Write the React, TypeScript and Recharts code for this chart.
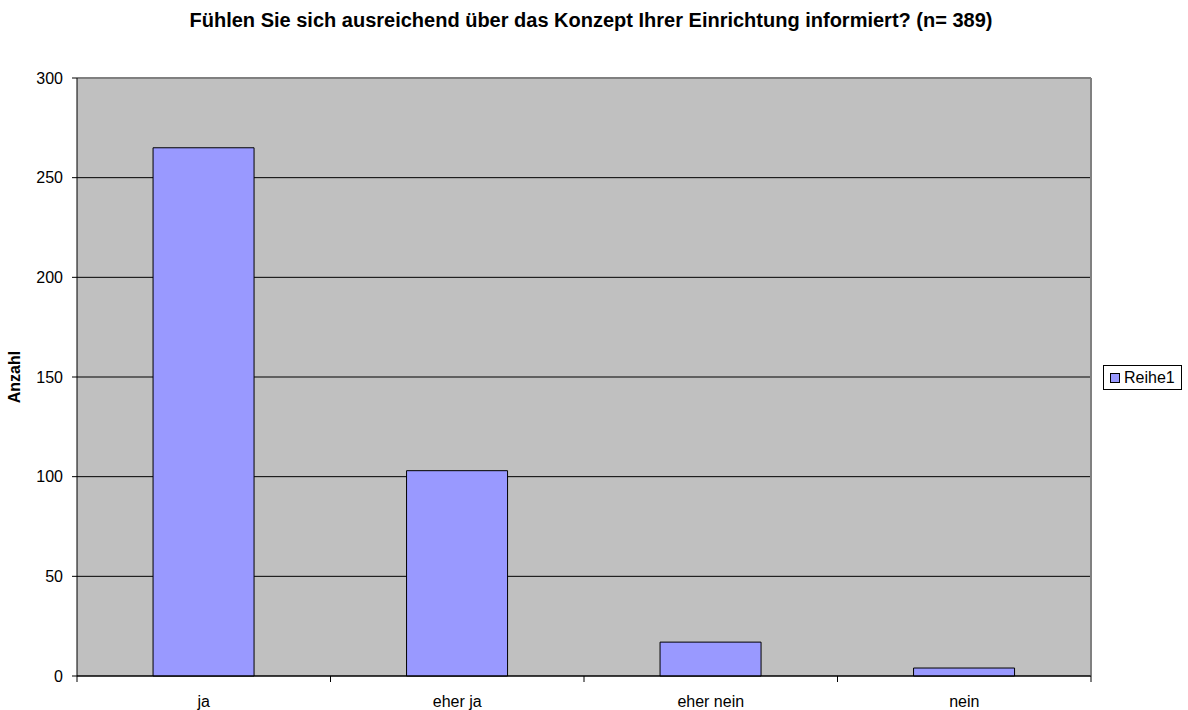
import React from 'react';
import { BarChart, Bar, XAxis, YAxis, CartesianGrid } from 'recharts';

const categories = ['ja', 'eher ja', 'eher nein', 'nein'];
const reihe1 = [265, 103, 17, 4];
const yTicks = [0, 50, 100, 150, 200, 250, 300];

const data = categories.map((c, i) => ({ name: c, Reihe1: reihe1[i] }));

const FONT = '"Liberation Sans", Arial, sans-serif';
const TITLE = 'Fühlen Sie sich ausreichend über das Konzept Ihrer Einrichtung informiert? (n= 389)';

const XTick = (props: any) => {
  const { x, y, payload, index } = props;
  const off = payload && payload.offset ? payload.offset : 0;
  const axisY = y - 8;
  return (
    <g>
      {index === 0 && <line x1={x - off} x2={x - off} y1={axisY} y2={axisY + 6} stroke="#000" />}
      <line x1={x + off} x2={x + off} y1={axisY} y2={axisY + 6} stroke="#000" />
      <text x={x} y={axisY + 31} textAnchor="middle" fontSize={16} fontFamily={FONT} fill="#000">
        {payload.value}
      </text>
    </g>
  );
};

export default function App() {
  return (
    <div style={{ position: 'absolute', left: 0, top: 0, width: 1188, height: 710, background: '#fff' }}>
      <BarChart
        width={1188}
        height={710}
        data={data}
        margin={{ top: 78, right: 97, bottom: 0, left: 0 }}
        barCategoryGap="30%"
        style={{ position: 'absolute', left: 0, top: 0 }}
      >
        <CartesianGrid vertical={false} stroke="#000" fill="#C0C0C0" fillOpacity={1} />
        <CartesianGrid
          horizontalCoordinatesGenerator={({ offset }: any) => [offset.top]}
          verticalCoordinatesGenerator={({ offset }: any) => [offset.left + offset.width]}
          stroke="#808080"
          strokeWidth={2}
        />
        <XAxis
          dataKey="name"
          height={34}
          stroke="#000"
          tickLine={false}
          tick={<XTick />}
          interval={0}
        />
        <YAxis
          width={77}
          domain={[0, 300]}
          ticks={yTicks}
          stroke="#000"
          tickSize={5}
          tickMargin={9}
          tick={{ fontSize: 16, fill: '#000', fontFamily: FONT }}
          label={{
            value: 'Anzahl',
            angle: -90,
            position: 'insideLeft',
            offset: 14,
            style: { fontWeight: 'bold', fontSize: 16, fill: '#000', fontFamily: FONT, textAnchor: 'middle' },
          }}
        />
        <Bar dataKey="Reihe1" fill="#9999FF" stroke="#000" strokeWidth={1} isAnimationActive={false} />
      </BarChart>
      <svg
        width={1188}
        height={710}
        style={{ position: 'absolute', left: 0, top: 0, pointerEvents: 'none' }}
      >
        <text x={591} y={27} textAnchor="middle" fontSize={20} fontWeight="bold" fontFamily={FONT} fill="#000">
          {TITLE}
        </text>
        <rect x={1103.5} y={365.5} width={78} height={24} fill="#fff" stroke="#000" />
        <rect x={1110.5} y={373.5} width={9} height={9} fill="#9999FF" stroke="#000" />
        <text x={1124} y={383} fontSize={16} fontFamily={FONT} fill="#000">
          Reihe1
        </text>
      </svg>
    </div>
  );
}
